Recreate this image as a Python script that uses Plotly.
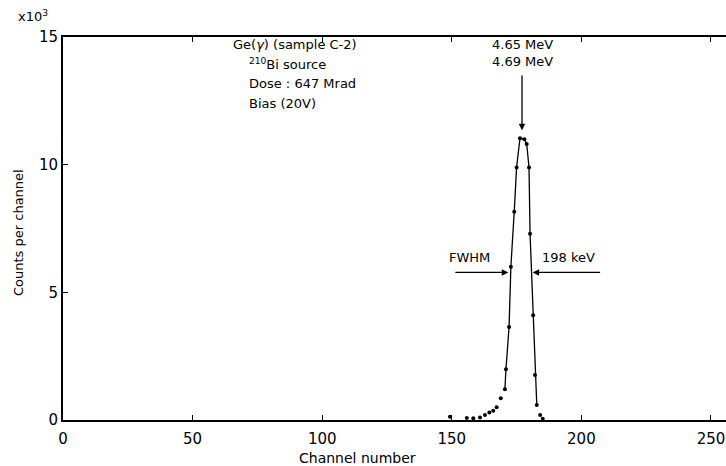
import plotly.graph_objects as go

# Data
channel = [149.3, 155.8, 158.3, 160.9, 162.8, 164.5, 166.0, 167.3, 168.9, 170.5,
           170.9, 172.1, 172.8, 174.1, 175.0, 176.3, 178.0, 178.9, 179.8, 180.2,
           181.4, 182.1, 182.8, 184.1, 185.1]
counts = [130, 80, 70, 100, 200, 290, 360, 500, 850, 1200,
          1990, 3640, 6000, 8160, 9890, 11030, 11000, 10810, 9890, 7290,
          4100, 1760, 590, 200, 50]

line_ch = [c for c in channel if 170.4 <= c <= 182.9]
line_ct = [counts[channel.index(c)] for c in line_ch]

x_ticks = [0, 50, 100, 150, 200, 250]
y_ticks = [0, 5000, 10000, 15000]
y_ticktext = ["0", "5", "10", "15"]

FONT = "DejaVu Sans"
PX_H = 383.0  # plot height in px
PX_W = 663.0

fig = go.Figure()
fig.add_trace(go.Scatter(x=line_ch, y=line_ct, mode="lines",
                         line=dict(color="black", width=1.3),
                         hoverinfo="skip", showlegend=False))
fig.add_trace(go.Scatter(x=channel, y=counts, mode="markers",
                         marker=dict(color="black", size=4),
                         cliponaxis=False, showlegend=False))

fig.update_layout(
    width=726, height=466,
    margin=dict(l=63, r=0, t=37, b=46),
    paper_bgcolor="white", plot_bgcolor="white",
    font=dict(family=FONT, size=14, color="black"),
    showlegend=False,
)
fig.update_xaxes(range=[0, 255.8], tickvals=x_ticks, ticks="inside", ticklen=5,
                 tickwidth=1.3, tickcolor="black", showline=True, linecolor="black",
                 linewidth=1.8, mirror="ticks", showgrid=False, zeroline=False,
                 tickfont=dict(size=15), ticklabelstandoff=4)
fig.update_yaxes(range=[0, 15000], tickvals=y_ticks, ticktext=y_ticktext,
                 ticks="inside", ticklen=5, tickwidth=1.3, tickcolor="black",
                 showline=True, linecolor="black", linewidth=1.8, showgrid=False,
                 zeroline=False, tickfont=dict(size=15))

# axis titles
fig.add_annotation(x=(357 - 63) / PX_W, y=-(458 - 420) / PX_H, xref="paper", yref="paper",
                   text="Channel number", showarrow=False, font=dict(size=14),
                   xanchor="center", yanchor="middle")
fig.add_annotation(x=(18 - 63) / PX_W, y=(420 - 233) / PX_H, xref="paper", yref="paper",
                   text="Counts per channel", showarrow=False, font=dict(size=13),
                   textangle=-90, xanchor="center", yanchor="middle")
fig.add_annotation(x=(33 - 63) / PX_W, y=(420 - 16) / PX_H, xref="paper", yref="paper",
                   text="x10<sup>3</sup>", showarrow=False, font=dict(size=13),
                   xanchor="center", yanchor="middle")

info = [("Ge(<i>γ</i>) (sample C-2)", 65), ("<sup>210</sup>Bi source", 71),
        ("Dose : 647 Mrad", 71), ("Bias (20V)", 71)]
for i, (t, x0) in enumerate(info):
    fig.add_annotation(x=x0, y=14700 - i * 770, xref="x", yref="y", text=t,
                       showarrow=False, xanchor="left", yanchor="middle",
                       font=dict(size=13))

fig.add_annotation(x=177.1, y=13650, xref="x", yref="y", text="4.65 MeV<br>4.69 MeV",
                   showarrow=False, yanchor="bottom", font=dict(size=13))
fig.add_annotation(x=177.1, y=11350, ax=177.1, ay=13550, xref="x", yref="y",
                   axref="x", ayref="y", text="", showarrow=True, arrowhead=2,
                   arrowsize=1, arrowwidth=1.3, arrowcolor="black")
fig.add_annotation(x=171.8, y=5780, ax=150.8, ay=5780, xref="x", yref="y",
                   axref="x", ayref="y", text="", showarrow=True, arrowhead=2,
                   arrowsize=1, arrowwidth=1.3, arrowcolor="black")
fig.add_annotation(x=181.2, y=5780, ax=207.8, ay=5780, xref="x", yref="y",
                   axref="x", ayref="y", text="", showarrow=True, arrowhead=2,
                   arrowsize=1, arrowwidth=1.3, arrowcolor="black")
fig.add_annotation(x=157.0, y=6350, xref="x", yref="y", text="FWHM",
                   showarrow=False, font=dict(size=13))
fig.add_annotation(x=195.2, y=6350, xref="x", yref="y", text="198 keV",
                   showarrow=False, font=dict(size=13))

fig.write_html("out.html")
